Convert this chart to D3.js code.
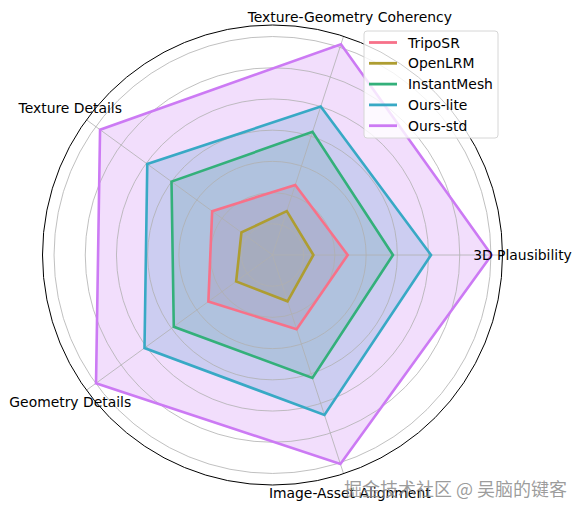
<!DOCTYPE html>
<html>
<head>
<meta charset="utf-8">
<script src="https://cdn.jsdelivr.net/npm/d3@7"></script>
<style>
  body { margin: 0; background: #fff; }
  svg { display: block; font-family: "DejaVu Sans", sans-serif; }
</style>
</head>
<body>
<div id="chart"></div>
<script>
// axes go counter-clockwise from east, like matplotlib polar
const axes = ["3D Plausibility", "Texture-Geometry Coherency", "Texture Details", "Geometry Details", "Image-Asset Alignment"];
const series = ["TripoSR", "OpenLRM", "InstantMesh", "Ours-lite", "Ours-std"];
const tripoSR = [2.41, 2.36, 2.39, 2.54, 2.50];
const openLRM = [1.31, 1.48, 1.23, 1.44, 1.56];
const instantMesh = [3.86, 4.15, 4.00, 3.91, 4.14];
const oursLite = [5.08, 5.00, 4.96, 5.07, 5.39];
const oursStd = [7.02, 7.10, 6.83, 6.99, 7.04];
const gridTicks = [1, 2, 3, 4, 5, 6, 7];
const rMax = 7.37;

const colors = ["#f77189", "#ae9d31", "#33b07a", "#38a9c5", "#cc7af4"];
const values = [tripoSR, openLRM, instantMesh, oursLite, oursStd];

const W = 583, H = 510;
const cx = 272.5, cy = 255, R = 230;

const svg = d3.select("#chart").append("svg")
    .attr("width", W)
    .attr("height", H);

const g = svg.append("g").attr("transform", "translate(" + cx + "," + cy + ")");

const r = d3.scaleLinear().domain([0, rMax]).range([0, R]);
// matplotlib theta (ccw from east) -> d3 radial angle (cw from north)
const theta = d3.scaleLinear().domain([0, axes.length]).range([0, 2 * Math.PI]);
const d3Angle = i => Math.PI / 2 - theta(i);

const radial = d3.lineRadial()
    .angle((d, i) => d3Angle(i))
    .radius(d => r(d))
    .curve(d3.curveLinearClosed);

// fills first
values.forEach((vals, k) => {
    g.append("path")
        .attr("d", radial(vals))
        .attr("fill", colors[k])
        .attr("fill-opacity", 0.25)
        .attr("stroke", "none");
});

// grid circles and spokes
g.selectAll("circle.grid")
    .data(gridTicks)
    .enter()
    .append("circle")
    .attr("class", "grid")
    .attr("r", d => r(d))
    .attr("fill", "none")
    .attr("stroke", "#b0b0b0")
    .attr("stroke-width", 0.8);

g.selectAll("line.spoke")
    .data(axes)
    .enter()
    .append("line")
    .attr("x1", 0)
    .attr("y1", 0)
    .attr("x2", (d, i) => R * Math.cos(theta(i)))
    .attr("y2", (d, i) => -R * Math.sin(theta(i)))
    .attr("stroke", "#b0b0b0")
    .attr("stroke-width", 0.8);

// outlines
values.forEach((vals, k) => {
    g.append("path")
        .attr("d", radial(vals))
        .attr("fill", "none")
        .attr("stroke", colors[k])
        .attr("stroke-width", 2.6)
        .attr("stroke-linejoin", "miter");
});

// outer spine
g.append("circle")
    .attr("r", R)
    .attr("fill", "none")
    .attr("stroke", "#000")
    .attr("stroke-width", 1);

// axis labels
const labelR = 250;
g.selectAll("text.axis")
    .data(axes)
    .enter()
    .append("text")
    .attr("x", (d, i) => labelR * Math.cos(theta(i)))
    .attr("y", (d, i) => -labelR * Math.sin(theta(i)))
    .attr("text-anchor", "middle")
    .attr("dominant-baseline", "central")
    .style("font-size", "13.9px")
    .attr("fill", "#000")
    .text(d => d);

// legend
const lg = svg.append("g").attr("transform", "translate(364,31)");
lg.append("rect")
    .attr("width", 134)
    .attr("height", 107)
    .attr("rx", 3)
    .attr("fill", "#fff")
    .attr("fill-opacity", 0.8)
    .attr("stroke", "#d6d6d6")
    .attr("stroke-width", 1);

series.forEach((name, k) => {
    const y = 11.5 + k * 20.8;
    lg.append("line")
        .attr("x1", 5)
        .attr("x2", 33)
        .attr("y1", y)
        .attr("y2", y)
        .attr("stroke", colors[k])
        .attr("stroke-width", 2.8);
    lg.append("text")
        .attr("x", 44)
        .attr("y", y)
        .attr("dominant-baseline", "central")
        .style("font-size", "13.9px")
        .attr("fill", "#000")
        .text(name);
});

// watermark
svg.append("text")
    .attr("x", 567)
    .attr("y", 488)
    .attr("text-anchor", "end")
    .attr("dominant-baseline", "central")
    .style("font-family", "'Noto Sans CJK SC', sans-serif")
    .style("font-size", "18px")
    .attr("fill", "#8a8a8a")
    .attr("fill-opacity", 0.85)
    .text("掘金技术社区 @ 吴脑的键客");
</script>
</body>
</html>
